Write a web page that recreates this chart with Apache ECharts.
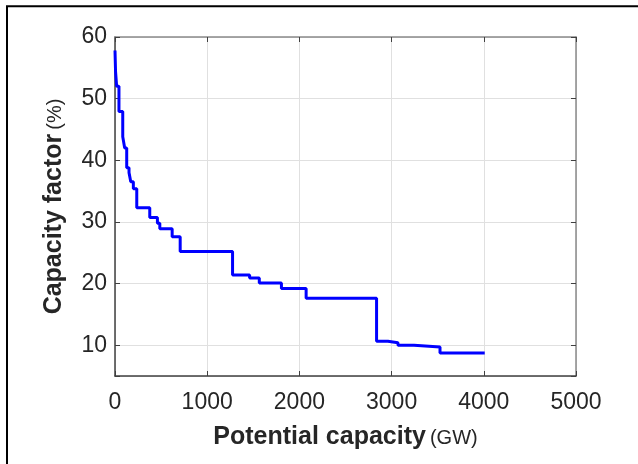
<!DOCTYPE html>
<html>
<head>
<meta charset="utf-8">
<script src="https://cdn.jsdelivr.net/npm/echarts@6/dist/echarts.min.js"></script>
<style>
html,body{margin:0;padding:0;background:#fff;}
#chart{width:638px;height:464px;}
</style>
</head>
<body>
<div id="chart"></div>
<script>
// Step curve: capacity at which each capacity-factor level begins (GW), and that level (%)
const stepCapacityGW = [0, 6, 18, 43, 84, 105, 127, 152, 171, 199, 236, 377, 460, 486, 620, 707, 1275, 1460, 1565, 1805, 2073, 2837, 2960, 3069, 3243, 3525, 4010];
const capacityFactorPct = [57.8, 54.4, 52.0, 47.9, 43.8, 42.0, 38.8, 38.0, 36.5, 35.4, 32.3, 30.7, 29.8, 28.9, 27.6, 25.2, 21.4, 20.9, 20.1, 19.2, 17.6, 10.65, 10.4, 10.0, 9.7, 8.75, 8.75];

const xTicks = [0, 1000, 2000, 3000, 4000, 5000];
const yTicks = [10, 20, 30, 40, 50, 60];

const FONT = "'Liberation Sans', Arial, sans-serif";
const TXT = '#262626';
const GRIDC = '#e0e0e0';

const chart = echarts.init(document.getElementById('chart'), null, {renderer: 'canvas'});
const data = stepCapacityGW.map((x, i) => [x, capacityFactorPct[i]]);

const baseX = {
  type: 'value', min: xTicks[0], max: xTicks[xTicks.length - 1], interval: 1000
};
// no interval: ECharts picks 10 and aligns ticks to 10, 20, ... 60
const baseY = {
  type: 'value', min: 5, max: yTicks[yTicks.length - 1], splitNumber: 5
};

const richName = {
  b: {fontWeight: 'bold', fontSize: 25, color: TXT, fontFamily: FONT, verticalAlign: 'bottom', lineHeight: 28},
  n: {fontSize: 20, color: TXT, fontFamily: FONT, verticalAlign: 'bottom', lineHeight: 28, padding: [0, 0, 2, 4]}
};

chart.setOption({
  animation: false,
  backgroundColor: '#fff',
  textStyle: {fontFamily: FONT},
  graphic: [{
    type: 'rect', z: 100, silent: true,
    shape: {x: 7, y: 6.3, width: 700, height: 700},
    style: {fill: null, stroke: '#000', lineWidth: 2}
  }],
  grid: {left: 115, right: 62, top: 37, bottom: 88, containLabel: false},
  xAxis: [
    Object.assign({}, baseX, {
      position: 'bottom',
      axisLine: {show: true, onZero: false, lineStyle: {color: '#404040', width: 1.5}},
      axisTick: {show: true, inside: true, length: 5, lineStyle: {color: '#404040'}},
      splitLine: {show: true, lineStyle: {color: GRIDC, width: 1}},
      axisLabel: {color: TXT, fontSize: 23, fontFamily: FONT, margin: 15, formatter: v => String(v)},
      name: '{b|Potential capacity}{n|(GW)}',
      nameLocation: 'middle', nameGap: 46,
      nameTextStyle: {color: TXT, fontFamily: FONT, rich: richName}
    }),
    Object.assign({}, baseX, {
      position: 'top',
      axisLine: {show: true, onZero: false, lineStyle: {color: '#8a8a8a', width: 1.5}},
      axisTick: {show: true, inside: true, length: 5, lineStyle: {color: '#404040'}},
      splitLine: {show: false},
      axisLabel: {show: false}
    })
  ],
  yAxis: [
    Object.assign({}, baseY, {
      position: 'left',
      axisLine: {show: true, onZero: false, lineStyle: {color: '#404040', width: 1.5}},
      axisTick: {show: true, inside: true, length: 5, lineStyle: {color: '#404040'}},
      splitLine: {show: true, lineStyle: {color: GRIDC, width: 1}},
      axisLabel: {color: TXT, fontSize: 23, fontFamily: FONT, margin: 8,
        formatter: v => (yTicks.indexOf(v) >= 0 ? String(v) : '')},
      name: '{b|Capacity factor}{n|(%)}',
      nameLocation: 'middle', nameGap: 48, nameRotate: 90,
      nameTextStyle: {color: TXT, fontFamily: FONT, rich: richName}
    }),
    Object.assign({}, baseY, {
      position: 'right',
      axisLine: {show: true, onZero: false, lineStyle: {color: '#8a8a8a', width: 1.5}},
      axisTick: {show: true, inside: true, length: 5, lineStyle: {color: '#404040'}},
      splitLine: {show: false},
      axisLabel: {show: false}
    })
  ],
  series: [{
    type: 'line',
    step: 'end',
    xAxisIndex: 0, yAxisIndex: 0,
    data: data,
    showSymbol: false,
    symbol: 'none',
    lineStyle: {color: '#0000ff', width: 3},
    z: 5
  }]
});
</script>
</body>
</html>
